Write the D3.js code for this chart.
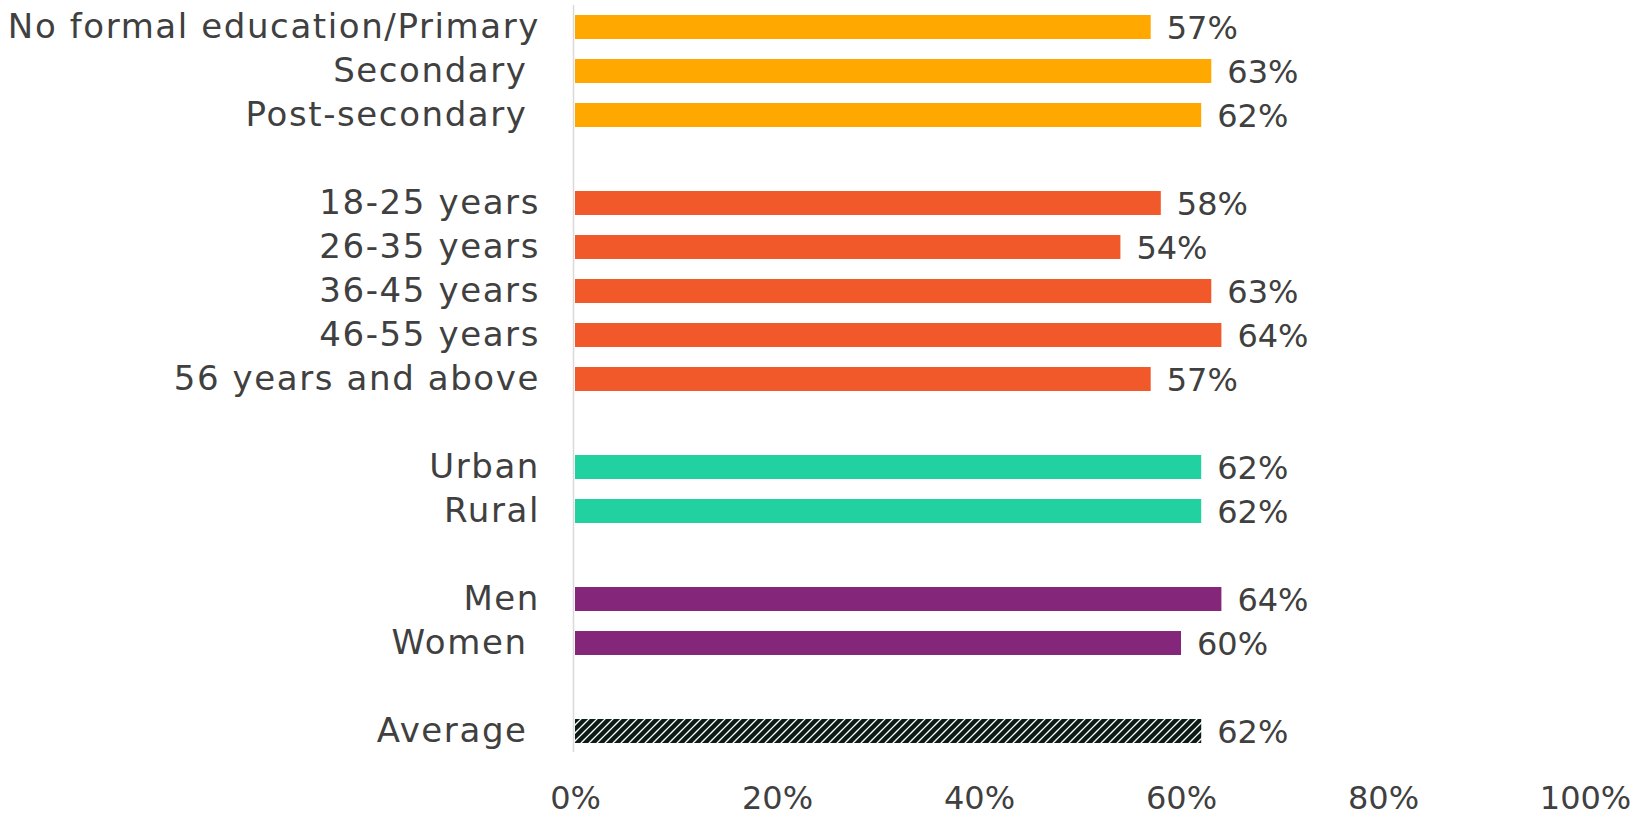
<!DOCTYPE html>
<html>
<head>
<meta charset="utf-8">
<script src="https://cdn.jsdelivr.net/npm/d3@7"></script>
<style>
  html, body { margin: 0; padding: 0; background: #ffffff; }
  svg text { font-family: "DejaVu Sans", sans-serif; fill: #404040; white-space: pre; }
</style>
</head>
<body>
<svg id="chart" width="1641" height="817"></svg>
<script>
// Share of respondents by group (percent)
const categories = [
  "No formal education/Primary", "Secondary ", "Post-secondary ",
  "18-25 years", "26-35 years", "36-45 years", "46-55 years", "56 years and above",
  "Urban", "Rural",
  "Men", "Women ",
  "Average "
];
const values = [57, 63, 62, 58, 54, 63, 64, 57, 62, 62, 64, 60, 62];
const groups = [
  "education", "education", "education",
  "age", "age", "age", "age", "age",
  "location", "location",
  "gender", "gender",
  "average"
];
const groupColors = {
  education: "#FFA800",
  age: "#F1592A",
  location: "#22D1A0",
  gender: "#84277A"
};
const tickValues = [0, 20, 40, 60, 80, 100];

const svg = d3.select("#chart");
const labelSize = 34;
const valueSize = 32;

// Build the row keys, leaving an empty row between groups
const rows = [];
categories.forEach((c, i) => {
  if (i > 0 && groups[i] !== groups[i - 1]) rows.push("gap-" + i);
  rows.push("row-" + i);
});

const x = d3.scaleLinear().domain([0, 100]).range([575, 1585]);
const y = d3.scaleBand().domain(rows).range([5, 753]).paddingInner(0.455).paddingOuter(0.2275);

// Hatched fill for the overall average
const defs = svg.append("defs");
const pat = defs.append("pattern")
  .attr("id", "hatch")
  .attr("patternUnits", "userSpaceOnUse")
  .attr("width", 8).attr("height", 8);
pat.append("rect").attr("width", 8).attr("height", 8).attr("fill", "#ffffff");
pat.append("path")
  .attr("d", "M-2,2 L2,-2 M0,8 L8,0 M6,10 L10,6")
  .attr("stroke", "#0a1a14")
  .attr("stroke-width", 4.4);

const data = categories.map((c, i) => ({ label: c, value: values[i], group: groups[i], key: "row-" + i }));

// Vertical axis line
svg.append("line")
  .attr("x1", 573.5).attr("x2", 573.5)
  .attr("y1", 5).attr("y2", 752)
  .attr("stroke", "#d9d9d9").attr("stroke-width", 1.5);

// Bars
svg.append("g").selectAll("rect")
  .data(data)
  .join("rect")
  .attr("x", x(0))
  .attr("y", d => y(d.key))
  .attr("width", d => x(d.value) - x(0))
  .attr("height", y.bandwidth())
  .attr("fill", d => d.group === "average" ? "url(#hatch)" : groupColors[d.group]);

// Category labels
svg.append("g").selectAll("text")
  .data(data)
  .join("text")
  .attr("x", 540)
  .attr("y", d => y(d.key) + y.bandwidth() / 2 + 11)
  .attr("text-anchor", "end")
  .attr("font-size", labelSize)
  .attr("letter-spacing", 1.6)
  .text(d => d.label);

// Value labels
svg.append("g").selectAll("text")
  .data(data)
  .join("text")
  .attr("x", d => x(d.value) + 16)
  .attr("y", d => y(d.key) + y.bandwidth() / 2 + 12)
  .attr("font-size", valueSize)
  .text(d => d.value + "%");

// Horizontal axis tick labels
const xAxis = d3.axisBottom(x)
  .tickValues(tickValues)
  .tickSize(0)
  .tickPadding(0)
  .tickFormat(d => d + "%");
const axisG = svg.append("g")
  .attr("transform", "translate(0,809)")
  .call(xAxis);
axisG.select(".domain").remove();
axisG.selectAll("text")
  .attr("dy", 0)
  .attr("font-size", valueSize)
  .attr("font-family", null)
  .style("fill", "#404040");
</script>
</body>
</html>
